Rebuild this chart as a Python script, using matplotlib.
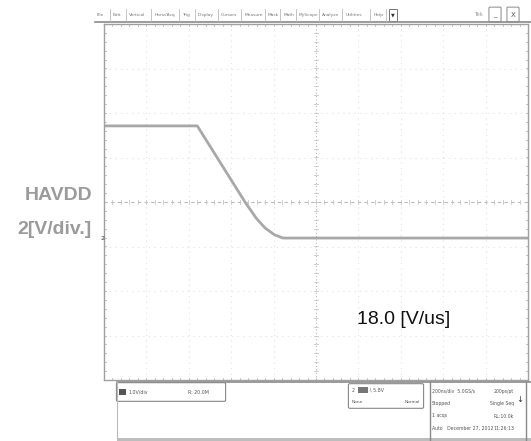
import matplotlib
matplotlib.use("Agg")
import matplotlib.pyplot as plt
from matplotlib.patches import Rectangle, FancyBboxPatch
import numpy as np

# ---- data (time in ns, voltage in V relative to screen centre) ----
time_ns = [-1000, -560, -335, -280, -240, -195, -155, 1000]
volt_v = [3.42, 3.42, 0.0, -0.75, -1.17, -1.48, -1.62, -1.62]
x_divs = 10
y_divs = 8
ns_per_div = 200
v_per_div = 2
menu_items = ["File", "Edit", "Vertical", "Horiz/Acq", "Trig", "Display", "Cursors",
              "Measure", "Mask", "Math", "MyScope", "Analyze", "Utilities", "Help"]
channel_label = ["HAVDD", "2[V/div.]"]
slope_text = "18.0 [V/us]"
status_lines = [("200ns/div  5.0GS/s", "200ps/pt"), ("Stopped", "Single Seq"),
                ("1 acqs", "RL:10.0k"), ("Auto   December 27, 2012", "11:26:13")]

W, H = 531, 441
fig = plt.figure(figsize=(W / 100, H / 100), dpi=100)
fig.patch.set_facecolor("white")

def fx(px):
    return px / W

def fy(py):
    return 1 - py / H

# ---- plot area ----
L, R, T, B = 104, 528, 24, 380
ax = fig.add_axes([fx(L), fy(B), (R - L) / W, (B - T) / H])
xmin, xmax = -x_divs / 2 * ns_per_div, x_divs / 2 * ns_per_div
ymin, ymax = -y_divs / 2 * v_per_div, y_divs / 2 * v_per_div
ax.set_xlim(xmin, xmax)
ax.set_ylim(ymin, ymax)
ax.set_xticks([])
ax.set_yticks([])
for s in ax.spines.values():
    s.set_color("#a0a0a0")
    s.set_linewidth(1.0)

grid_c = "#e0e0e0"
for i in range(1, x_divs):
    xv = xmin + i * ns_per_div
    if xv == 0:
        continue
    ax.axvline(xv, color=grid_c, lw=0.8, ls=(0, (1, 4)))
for j in range(1, y_divs):
    yv = ymin + j * v_per_div
    if yv == 0:
        continue
    ax.axhline(yv, color=grid_c, lw=0.8, ls=(0, (1, 4)))
# centre lines
ax.axvline(0, color="#b8b8b8", lw=0.8, ls=(0, (1, 2)))
ax.axhline(0, color="#b8b8b8", lw=0.8, ls=(0, (3, 3)))
# minor ticks on centre lines and edges
xt = np.arange(xmin, xmax + 1, ns_per_div / 5)
yt = np.arange(ymin, ymax + 0.01, v_per_div / 5)
tx = (ymax - ymin) * 0.007
ty = (xmax - xmin) * 0.005
for xv in xt:
    ax.plot([xv, xv], [-tx, tx], color="#c8c8c8", lw=0.6)
    ax.plot([xv, xv], [ymin, ymin + tx], color="#b8b8b8", lw=0.6)
    ax.plot([xv, xv], [ymax - tx, ymax], color="#b8b8b8", lw=0.6)
for yv in yt:
    ax.plot([-ty, ty], [yv, yv], color="#c8c8c8", lw=0.6)
    ax.plot([xmin, xmin + ty], [yv, yv], color="#b8b8b8", lw=0.6)
    ax.plot([xmax - ty, xmax], [yv, yv], color="#b8b8b8", lw=0.6)

ax.plot(time_ns, volt_v, color="#a8a8a8", lw=2.0, solid_joinstyle="round")

ax.text((357 - L) / (R - L), (B - 319) / (B - T), slope_text, transform=ax.transAxes,
        fontsize=14, family="Liberation Sans", color="#111111", ha="left", va="center")

# ---- channel label ----
fig.text(fx(92), fy(195), channel_label[0], ha="right", va="center", fontsize=14,
         family="Liberation Sans", weight="bold", color="#9b9b9b")
fig.text(fx(92), fy(230), channel_label[1], ha="right", va="center", fontsize=14,
         family="Liberation Sans", weight="bold", color="#9b9b9b")
fig.text(fx(103), fy(238), "2", ha="center", va="center", fontsize=4.5,
         color="#777777", weight="bold")

# ---- menu bar ----
fig.add_artist(plt.Line2D([fx(95), fx(531)], [fy(22), fy(22)], color="#8a8a8a", lw=1.2))
x = 97
for item in menu_items:
    fig.text(fx(x), fy(15), item, fontsize=3.2, color="#777777", va="center", ha="left")
    w = len(item) * 2.45 + 6
    fig.add_artist(plt.Line2D([fx(x + w - 3), fx(x + w - 3)], [fy(9), fy(21)],
                              color="#bbbbbb", lw=0.6))
    x += w
fig.add_artist(Rectangle((fx(x), fy(21)), 8 / W, 12 / H, fill=False,
                         ec="#777777", lw=0.7))
fig.text(fx(x + 4), fy(15), "▼", fontsize=3.5, ha="center", va="center", color="#333333")
fig.text(fx(479), fy(15), "Tek", fontsize=4, color="#999999", va="center", ha="center")
for bx, s in [(495, "_"), (513, "X")]:
    fig.add_artist(FancyBboxPatch((fx(bx - 5), fy(21)), 10 / W, 13 / H,
                                  boxstyle="round,pad=0.002", fill=False,
                                  ec="#888888", lw=0.7))
    fig.text(fx(bx), fy(15), s, fontsize=5, ha="center", va="center", color="#555555")

# ---- status bar ----
fig.add_artist(Rectangle((fx(117), fy(441)), (531 - 117) / W, 3 / H, fc="#bdbdbd", ec="none"))
fig.add_artist(plt.Line2D([fx(117), fx(531)], [fy(382), fy(382)], color="#8a8a8a", lw=1.2))
fig.add_artist(plt.Line2D([fx(117), fx(117)], [fy(382), fy(441)], color="#bbbbbb", lw=0.8))
fig.add_artist(FancyBboxPatch((fx(118), fy(400)), 106 / W, 16 / H,
                              boxstyle="round,pad=0.003", fill=False, ec="#888888", lw=0.8))
fig.add_artist(Rectangle((fx(119), fy(395)), 7 / W, 6 / H, fc="#555555", ec="none"))
fig.text(fx(128), fy(392), "1.0V/div", fontsize=3.4, color="#555555", va="center")
fig.text(fx(188), fy(392), "R: 20.0M", fontsize=3.4, color="#555555", va="center")
fig.add_artist(FancyBboxPatch((fx(350), fy(407)), 72 / W, 22 / H,
                              boxstyle="round,pad=0.003", fill=False, ec="#888888", lw=0.8))
fig.add_artist(Rectangle((fx(358), fy(393)), 10 / W, 6 / H, fc="#777777", ec="none"))
fig.text(fx(352), fy(390), "2", fontsize=3.4, color="#555555", va="center")
fig.text(fx(370), fy(390), "\\ 5.8V", fontsize=3.4, color="#555555", va="center")
fig.text(fx(352), fy(402), "None", fontsize=3.2, color="#555555", va="center")
fig.text(fx(420), fy(402), "Normal", fontsize=3.2, color="#555555", va="center", ha="right")
fig.add_artist(plt.Line2D([fx(430), fx(430)], [fy(382), fy(441)], color="#888888", lw=1.0))
fig.add_artist(plt.Line2D([fx(526), fx(526)], [fy(382), fy(441)], color="#888888", lw=1.0))
for k, (a, b) in enumerate(status_lines):
    yy = 391 + k * 12.5
    fig.text(fx(432), fy(yy), a, fontsize=3.3, color="#555555", va="center")
    fig.text(fx(514), fy(yy), b, fontsize=3.3, color="#555555", va="center", ha="right")
fig.text(fx(520), fy(400), "↓", fontsize=6, color="#333333", va="center", ha="center")

fig.savefig("out.png", dpi=100)
